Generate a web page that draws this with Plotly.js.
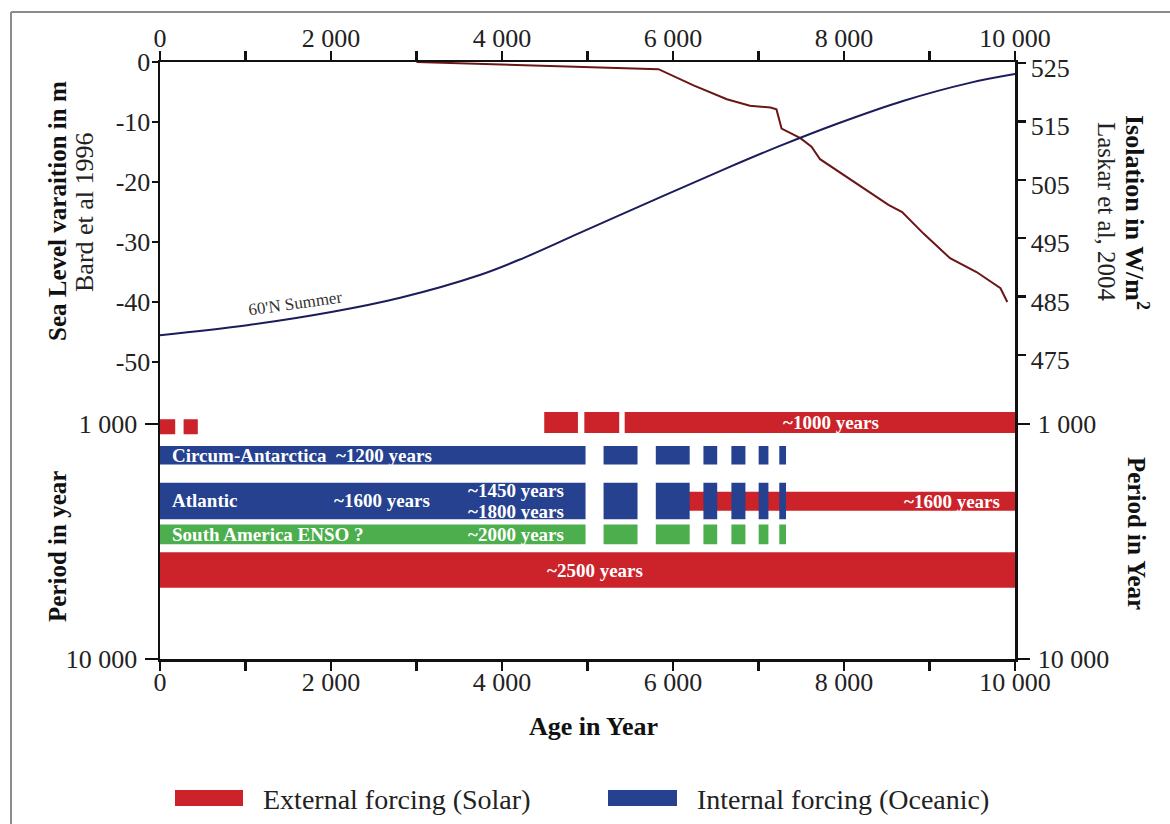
<!DOCTYPE html>
<html><head><meta charset="utf-8">
<script src="https://cdn.plot.ly/plotly-3.0.1.min.js"></script>
<style>html,body{margin:0;padding:0;background:#fff}#chart{width:1170px;height:824px}</style>
</head><body><div id="chart"></div>
<script>
// ---------- data ----------
const seaAge   = [3000, 5830, 6240, 6630, 6900, 7140, 7210, 7270, 7490, 7620, 7720, 8030, 8300, 8520, 8680, 8930, 9240, 9550, 9830, 9910];
const seaLevel = [0, -1.2, -3.9, -6.2, -7.3, -7.6, -7.9, -11.1, -12.7, -14.1, -16.2, -19.1, -21.6, -23.8, -25.0, -28.6, -32.7, -35.0, -37.7, -40.0];

const insolAge = [0, 1020, 2020, 2810, 3740, 4250, 4910, 5880, 6630, 7250, 7920, 8690, 9470, 10000];
const insolVal = [478.4, 480.1, 482.4, 484.8, 488.7, 491.6, 495.9, 502.2, 507.0, 510.8, 514.6, 518.5, 521.6, 523.1];

// bottom panel: segments in age (years) and period band (years)
const solarSmallStart = [0, 276];
const solarSmallEnd   = [178, 442];
const solarSmallBand  = [955, 1106];

const solar1000Start = [4494, 4963, 5435];
const solar1000End   = [4888, 5371, 10000];
const solar1000Band  = [889, 1092];

const solar1600Start = [6150];
const solar1600End   = [10000];
const solar1600Band  = [1941, 2338];

const solar2500Start = [0];
const solar2500End   = [10000];
const solar2500Band  = [3516, 4973];

const oceanStart = [0, 5188, 5799, 6356, 6683, 7002, 7243];
const oceanEnd   = [4977, 5585, 6195, 6517, 6847, 7116, 7322];
const circumBand   = [1241, 1487];
const atlanticBand = [1777, 2544];
const ensoBand     = [2677, 3251];

// tick labels
const xTickVals = [0, 2000, 4000, 6000, 8000, 10000];
const xTickText = ['0', '2 000', '4 000', '6 000', '8 000', '10 000'];
const seaTickVals = [0, -10, -20, -30, -40, -50];
const seaTickText = ['0', '-10', '-20', '-30', '-40', '-50'];
const insolTickVals = [475, 485, 495, 505, 515, 525];
const insolTickText = ['475', '485', '495', '505', '515', '525'];
const periodTickVals = [1000, 10000];
const periodTickText = ['1 000', '10 000'];

// bar labels: [text, age, band, xanchor, yshift]
const barLabels = [
  ['Circum-Antarctica  ~1200 years', 117, circumBand, 'left', 0],
  ['Atlantic', 117, atlanticBand, 'left', 0],
  ['~1600 years', 2600, atlanticBand, 'center', 0],
  ['~1450 years', 4164, atlanticBand, 'center', 10],
  ['~1800 years', 4164, atlanticBand, 'center', -11],
  ['South America ENSO ?', 117, ensoBand, 'left', 0],
  ['~2000 years', 4164, ensoBand, 'center', 0],
  ['~2500 years', 5088, solar2500Band, 'center', 0],
  ['~1000 years', 7850, solar1000Band, 'center', 0],
  ['~1600 years', 9263, solar1600Band, 'center', 0]
];

// ---------- styles ----------
const RED = '#cc2229', BLUE = '#25418f', GREEN = '#4cae4c';
const SERIF = 'Liberation Serif, Times New Roman, serif';
const TXT = '#222';

function rects(starts, ends, band) {
  const x = [], y = [];
  starts.forEach((s, i) => {
    x.push(s, ends[i], ends[i], s, s, null);
    y.push(band[0], band[0], band[1], band[1], band[0], null);
  });
  return {x, y};
}
function rectTrace(starts, ends, band, color, yaxis) {
  const r = rects(starts, ends, band);
  return {type: 'scatter', mode: 'lines', x: r.x, y: r.y, fill: 'toself', fillcolor: color,
          line: {width: 0, color: color}, xaxis: 'x2', yaxis: yaxis || 'y3', hoverinfo: 'skip', showlegend: false};
}

const traces = [
  {type: 'scatter', mode: 'lines', x: seaAge, y: seaLevel, xaxis: 'x', yaxis: 'y',
   line: {color: '#6b1515', width: 2}, showlegend: false},
  {type: 'scatter', mode: 'lines', x: insolAge, y: insolVal, xaxis: 'x', yaxis: 'y2',
   line: {color: '#1c1c5c', width: 2, shape: 'spline', smoothing: 1}, showlegend: false},
  rectTrace(solar2500Start, solar2500End, solar2500Band, RED, 'y4'),
  rectTrace(solar1000Start, solar1000End, solar1000Band, RED),
  rectTrace(solarSmallStart, solarSmallEnd, solarSmallBand, RED),
  rectTrace(solar1600Start, solar1600End, solar1600Band, RED),
  rectTrace(oceanStart, oceanEnd, circumBand, BLUE),
  rectTrace(oceanStart, oceanEnd, atlanticBand, BLUE),
  rectTrace(oceanStart, oceanEnd, ensoBand, GREEN)
];

const SPLIT = 0.4422;
const axisCommon = {showline: true, linecolor: '#111', linewidth: 2.5, ticks: 'outside', tickcolor: '#111',
  tickwidth: 2.5, showgrid: false, zeroline: false, tickfont: {family: SERIF, size: 26, color: TXT}, fixedrange: true};

const xCommon = Object.assign({}, axisCommon, {range: [0, 10000], tickmode: 'array', tickvals: xTickVals, ticktext: xTickText,
  ticklen: 9, minor: {dtick: 1000, ticks: 'outside', ticklen: 9, tickwidth: 2.5, tickcolor: '#111'}});

const annotations = [];
const ann = (o) => annotations.push(Object.assign({showarrow: false, xref: 'paper', yref: 'paper', xanchor: 'center', yanchor: 'middle'}, o));
const px = (p) => (p - 160) / 855, py = (p) => (659 - p) / 597;

ann({text: '<b>Sea Level varaition in m</b>', x: px(57), y: py(211), textangle: -90, font: {family: SERIF, size: 25, color: '#111'}});
ann({text: 'Bard et al 1996', x: px(84), y: py(212), textangle: -90, font: {family: SERIF, size: 26, color: TXT}});
ann({text: '<b>Isolation in W/m<sup>2</sup></b>', x: px(1137), y: py(212), textangle: 90, font: {family: SERIF, size: 26, color: '#111'}});
ann({text: 'Laskar et al, 2004', x: px(1107), y: py(212), textangle: 90, font: {family: SERIF, size: 25, color: TXT}});
ann({text: '<b>Period in year</b>', x: px(57), y: py(547), textangle: -90, font: {family: SERIF, size: 25, color: '#111'}});
ann({text: '<b>Period in Year</b>', x: px(1137), y: py(533), textangle: 90, font: {family: SERIF, size: 25, color: '#111'}});
ann({text: '<b>Age in Year</b>', x: px(593), y: py(727), font: {family: SERIF, size: 26, color: '#111'}});
ann({text: 'External forcing (Solar)', x: px(261), y: py(799), xanchor: 'left', font: {family: SERIF, size: 28, color: TXT}});
ann({text: 'Internal forcing (Oceanic)', x: px(695), y: py(799), xanchor: 'left', font: {family: SERIF, size: 28, color: TXT}});
annotations.push({text: "60'N Summer", x: 1580, y: 483.9, xref: 'x', yref: 'y2', showarrow: false, textangle: -8,
  font: {family: SERIF, size: 17, color: '#333'}});

barLabels.forEach(([t, age, band, xa, ys]) => {
  const yc = (Math.log10(band[0]) + Math.log10(band[1])) / 2;
  annotations.push({text: '<b>' + t + '</b>', x: age, y: yc, xref: 'x2', yref: 'y3', showarrow: false,
    xanchor: xa, yanchor: 'middle', yshift: ys, font: {family: SERIF, size: 19, color: '#fff'}});
});

const shapes = [
  {type: 'line', xref: 'paper', yref: 'paper', x0: px(11), x1: px(1170), y0: py(12), y1: py(12), line: {color: '#8c8c8c', width: 2}},
  {type: 'line', xref: 'paper', yref: 'paper', x0: px(11), x1: px(11), y0: py(12), y1: py(824), line: {color: '#8c8c8c', width: 2}},
  {type: 'rect', xref: 'paper', yref: 'paper', x0: px(175), x1: px(243), y0: py(806), y1: py(790), fillcolor: RED, line: {width: 0}},
  {type: 'rect', xref: 'paper', yref: 'paper', x0: px(608), x1: px(677), y0: py(806), y1: py(790), fillcolor: BLUE, line: {width: 0}}
];

const layout = {
  width: 1170, height: 824,
  margin: {l: 160, r: 155, t: 62, b: 165, pad: 0},
  paper_bgcolor: '#fff', plot_bgcolor: 'rgba(0,0,0,0)',
  showlegend: false,
  font: {family: SERIF, color: TXT},
  xaxis: Object.assign({}, xCommon, {anchor: 'y', side: 'top', domain: [0, 1], ticklabelstandoff: -7}),
  xaxis2: Object.assign({}, xCommon, {anchor: 'y3', side: 'bottom', domain: [0, 1], ticklabelstandoff: -11}),
  yaxis: Object.assign({}, axisCommon, {domain: [SPLIT, 1], anchor: 'x', range: [-55.5, 0], tickmode: 'array',
    tickvals: seaTickVals, ticktext: seaTickText, ticklen: 6, ticklabelstandoff: -4}),
  yaxis2: Object.assign({}, axisCommon, {overlaying: 'y', side: 'right', anchor: 'x', range: [468.15, 525.17], tickmode: 'array',
    tickvals: insolTickVals, ticktext: insolTickText, ticklen: 8, ticklabelshift: 5}),
  yaxis3: Object.assign({}, axisCommon, {domain: [0, SPLIT], anchor: 'x2', type: 'log', range: [4, 2.8766], tickmode: 'array',
    tickvals: periodTickVals, ticktext: periodTickText, ticklen: 13, ticklabelstandoff: 2}),
  yaxis4: Object.assign({}, axisCommon, {overlaying: 'y3', side: 'right', anchor: 'x2', type: 'log', range: [4, 2.8766], tickmode: 'array',
    tickvals: periodTickVals, ticktext: periodTickText, ticklen: 12, ticklabelstandoff: 3}),
  annotations: annotations,
  shapes: shapes
};

Plotly.newPlot('chart', traces, layout, {staticPlot: true, displayModeBar: false});
</script>
</body></html>
